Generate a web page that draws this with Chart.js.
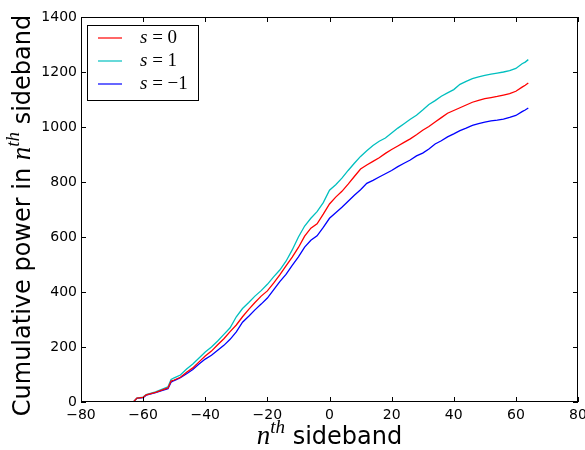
<!DOCTYPE html>
<html>
<head>
<meta charset="utf-8">
<script src="https://cdn.jsdelivr.net/npm/chart.js@4/dist/chart.umd.min.js"></script>
<style>
  html, body { margin: 0; padding: 0; background: #fff; }
  #wrap { width: 585px; height: 450px; position: relative; }
</style>
</head>
<body>
<div id="wrap"><canvas id="myChart" width="585" height="450"></canvas></div>
<script>
'use strict';

// sideband number n
let sidebands = [-65, -63, -62, -60, -59, -56, -54, -52, -51,
  -50, -48, -46, -44, -42, -40, -38, -36, -34, -32, -30, -28, -26, -24, -22, -20,
  -18, -16, -14, -12, -10, -8, -6, -4, -2, 0, 2, 4, 6, 8, 10, 12, 14, 16, 18, 20,
  22, 24, 26, 28, 30, 32, 34, 36, 38, 40, 42, 44, 46, 48, 50, 52, 54, 56, 58, 60, 62,
  63, 64];

// cumulative power, s = 0
let powerS0 = [0, 2, 14, 17, 26, 35, 43, 51, 76,
  80, 90, 108, 124, 146, 167, 185, 208, 230, 256, 280, 310, 337, 362, 385, 404,
  432, 462, 495, 527, 562, 603, 632, 648, 683, 720, 745, 766, 792, 820, 847, 862, 875, 888, 904, 918,
  931, 944, 957, 972, 988, 1002, 1018, 1034, 1050, 1060, 1070, 1080, 1090, 1097, 1103, 1107, 1111, 1116, 1121, 1130, 1145,
  1152, 1160];

// cumulative power, s = 1
let powerS1 = [0, 2, 14, 18, 27, 37, 46, 55, 82,
  88, 98, 120, 138, 160, 182, 200, 222, 246, 270, 310, 340, 362, 385, 405, 428,
  455, 480, 512, 553, 600, 640, 668, 692, 725, 770, 790, 814, 842, 868, 893, 914, 933, 948, 960, 978,
  996, 1012, 1028, 1043, 1062, 1082, 1096, 1112, 1124, 1136, 1155, 1166, 1176, 1182, 1188, 1192, 1196, 1200, 1205, 1213, 1230,
  1236, 1245];

// cumulative power, s = -1
let powerSm1 = [0, 1, 13, 16, 25, 34, 41, 48, 72,
  78, 88, 103, 118, 138, 156, 170, 188, 206, 228, 255, 290, 312, 335, 356, 378,
  408, 438, 464, 497, 528, 563, 588, 604, 635, 668, 688, 708, 730, 752, 772, 795, 806, 818, 830, 842,
  856, 868, 880, 895, 905, 920, 938, 950, 964, 975, 987, 996, 1006, 1012, 1018, 1022, 1025, 1029, 1035, 1042, 1056,
  1062, 1069];

let seriesLabels = ['0', '1', '\u22121'];
let seriesColors = ['#ff0000', '#00bfbf', '#0000ff'];

function toPoints(vals){
  return sidebands.map((n, i) => ({x: n, y: vals[i]}));
}

function fmt(v){
  return v < 0 ? '\u2212' + Math.abs(v) : String(v);
}

// draw a run of text pieces with their own fonts
function drawPieces(ctx, pieces, x, y, align){
  let total = 0;
  pieces.forEach(p => { ctx.font = p.font; total += ctx.measureText(p.t).width; });
  let cx = align === 'center' ? x - total / 2 : x;
  pieces.forEach(p => {
    ctx.font = p.font;
    ctx.fillText(p.t, cx, y + (p.dy || 0));
    cx += ctx.measureText(p.t).width;
  });
}

function nth(size){
  return [
    {t: 'n', font: 'italic ' + size + 'px "Liberation Serif"'},
    {t: 'th', font: 'italic ' + Math.round(size * 0.7) + 'px "Liberation Serif"', dy: -Math.round(size * 0.42)}
  ];
}

const framePlugin = {
  id: 'framePlugin',
  afterDraw(chart){
    let ctx = chart.ctx;
    let a = chart.chartArea;
    let xs = chart.scales.x;
    let ys = chart.scales.y;
    ctx.save();
    ctx.strokeStyle = '#000';
    ctx.lineWidth = 1;
    ctx.strokeRect(a.left + 0.5, a.top + 0.5, a.right - a.left - 1, a.bottom - a.top - 1);
    ctx.beginPath();
    xs.ticks.forEach(t => {
      let px = Math.round(xs.getPixelForValue(t.value)) + 0.5;
      ctx.moveTo(px, a.bottom); ctx.lineTo(px, a.bottom - 5);
      ctx.moveTo(px, a.top); ctx.lineTo(px, a.top + 5);
    });
    ys.ticks.forEach(t => {
      let py = Math.round(ys.getPixelForValue(t.value)) + 0.5;
      ctx.moveTo(a.left, py); ctx.lineTo(a.left + 5, py);
      ctx.moveTo(a.right, py); ctx.lineTo(a.right - 5, py);
    });
    ctx.stroke();

    // legend
    let lx = a.left + 6, ly = a.top + 8;
    ctx.fillStyle = '#fff';
    ctx.fillRect(lx + 0.5, ly + 0.5, 111, 75);
    ctx.strokeRect(lx + 0.5, ly + 0.5, 111, 75);
    ctx.fillStyle = '#000';
    ctx.textBaseline = 'middle';
    ctx.textAlign = 'left';
    seriesLabels.forEach((lab, i) => {
      let yy = ly + 13 + i * 23;
      ctx.strokeStyle = seriesColors[i];
      ctx.lineWidth = 1.2;
      ctx.beginPath();
      ctx.moveTo(lx + 11, yy); ctx.lineTo(lx + 35, yy);
      ctx.stroke();
      drawPieces(ctx, [
        {t: 's', font: 'italic 19px "Liberation Serif"'},
        {t: ' = ' + lab, font: '19px "Liberation Serif"'}
      ], lx + 53, yy, 'left');
    });

    // axis titles
    ctx.fillStyle = '#000';
    ctx.textBaseline = 'alphabetic';
    drawPieces(ctx, nth(27).concat([{t: ' sideband', font: '24px "DejaVu Sans"'}]),
      (a.left + a.right) / 2, 444, 'center');
    ctx.translate(30, (a.top + a.bottom) / 2 + 6);
    ctx.rotate(-Math.PI / 2);
    drawPieces(ctx, [{t: 'Cumulative power in ', font: '24px "DejaVu Sans"'}]
      .concat(nth(27)).concat([{t: ' sideband', font: '24px "DejaVu Sans"'}]),
      0, 0, 'center');
    ctx.restore();
  }
};

let ctx = document.getElementById('myChart').getContext('2d');
new Chart(ctx, {
  type: 'line',
  data: {
    datasets: [{
      label: 's = 0',
      data: toPoints(powerS0),
      borderColor: seriesColors[0],
      borderWidth: 1.3,
      pointRadius: 0,
      tension: 0
    },{
      label: 's = 1',
      data: toPoints(powerS1),
      borderColor: seriesColors[1],
      borderWidth: 1.3,
      pointRadius: 0,
      tension: 0
    },{
      label: 's = -1',
      data: toPoints(powerSm1),
      borderColor: seriesColors[2],
      borderWidth: 1.3,
      pointRadius: 0,
      tension: 0
    }]
  },
  options: {
    responsive: false,
    animation: false,
    layout: { padding: { top: 17, right: 7, left: 0, bottom: 0 } },
    plugins: { legend: { display: false }, tooltip: { enabled: false } },
    scales: {
      x: {
        type: 'linear',
        min: -80,
        max: 80,
        ticks: { stepSize: 20, color: '#000', padding: 5, font: { family: 'DejaVu Sans', size: 14 }, callback: fmt, maxRotation: 0 },
        grid: { display: false, drawTicks: false },
        border: { display: false },
        afterFit(scale){ scale.height = 48; scale.paddingRight = 0; scale.paddingLeft = 0; }
      },
      y: {
        min: 0,
        max: 1400,
        ticks: { stepSize: 200, color: '#000', padding: 4, font: { family: 'DejaVu Sans', size: 14 }, callback: fmt },
        grid: { display: false, drawTicks: false },
        border: { display: false },
        afterFit(scale){ scale.width = 81; scale.paddingTop = 0; scale.paddingBottom = 0; }
      }
    }
  },
  plugins: [framePlugin]
});
</script>
</body>
</html>
